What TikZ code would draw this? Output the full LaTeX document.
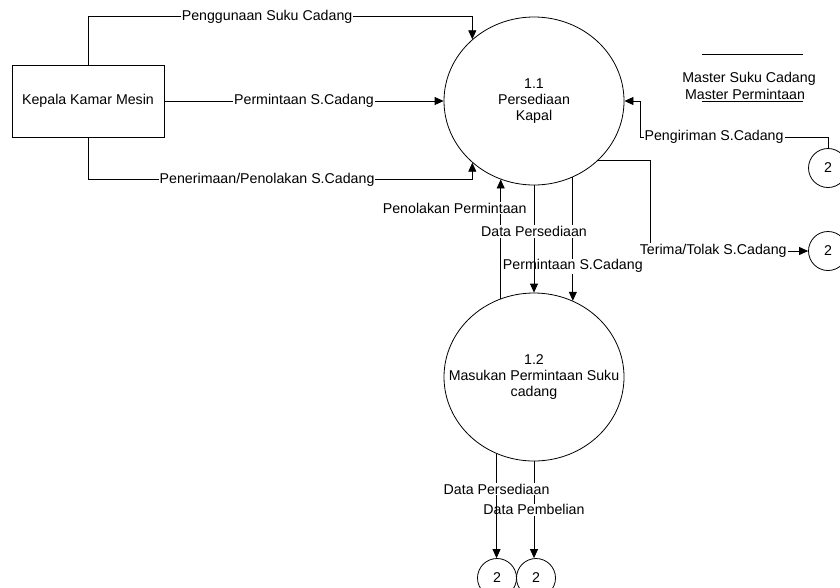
\documentclass[tikz,border=0pt]{standalone}
\usepackage{fontspec}
\setmainfont{Liberation Sans}
\usetikzlibrary{shapes.geometric,arrows.meta}

\begin{document}
\begin{tikzpicture}[x=1pt,y=-1pt,
        font=\fontsize{14.2}{16}\selectfont,
        line width=0.8pt,
        process/.style={draw,ellipse,minimum width=180pt,minimum height=168pt,
        inner sep=0pt},
        entity/.style={draw,rectangle,minimum width=152pt,minimum height=72pt},
        extref/.style={draw,circle,minimum size=39pt,inner sep=0pt},
        flow/.style={-{Triangle[length=9pt,width=8pt]}},
        lbl/.style={fill=white,inner sep=1pt}]
        \useasboundingbox (0,0) rectangle (840,587);

        \node[entity] (kkm) at (88,101) {Kepala Kamar Mesin};

        \node[process, label={[align=center]center:1.1\\Persediaan\\Kapal}]
        (p11) at (534,101) {};

        \node[process, label={[align=center]center:1.2\\Masukan Permintaan
        Suku\\cadang}] (p12) at (534,377) {};

        \node[extref] (s1) at (828,168) {2};
        \node[extref] (s2) at (828,251) {2};
        \node[extref] (b1) at (497,578) {2};
        \node[extref] (b2) at (536,578) {2};

        % data store
        \draw (702,54) -- (803,54);
        \node (ms1) at (749,79) {Master Suku Cadang};
        \node (ms2) at (745,94) {Master Permintaan};
        \draw (702,101) -- (803,101);

        \draw[flow] (kkm.north) -- ++(0,-48) -| (p11.135) node [lbl,pos=0.233]
        {Penggunaan Suku Cadang};

        \draw[flow] (kkm.east) -- (kkm.east -| p11.west) node [lbl,midway]
        {Permintaan S.Cadang};

        \draw[flow] (kkm.south) -- ++(0,42) -| (p11.225) node [lbl,pos=0.233]
        {Penerimaan/Penolakan S.Cadang};

        \coordinate (k1) at (640,137);
        \draw[flow] (s1.north) |- (k1) node [lbl,pos=0.803]
        {Pengiriman S.Cadang} |- (p11.east);

        \coordinate (k2) at (650,251);
        \draw[flow] (p11.317) -| (k2) -- (s2.west) node [lbl,pos=0.4]
        {Terima/Tolak S.Cadang};

        \draw[flow] (p12.113) -- (p12.113 |- p11.247) node [lbl,pos=0.76,
        xshift=-46pt] {Penolakan Permintaan};

        \draw[flow] (p11.297) -- (p11.297 |- p12.63) node [lbl,pos=0.72]
        {Permintaan S.Cadang};

        \draw[flow] (p11.south) -- (p12.north) node [lbl,pos=0.43]
        {Data Persediaan};

        \draw[flow] (p12.south) -- (p12.south |- b2.north) node [lbl,midway]
        {Data Pembelian};

        \draw[flow] (p12.244) -- (p12.244 |- b1.north) node [lbl,pos=0.34]
        {Data Persediaan};
      \end{tikzpicture}
\end{document}
